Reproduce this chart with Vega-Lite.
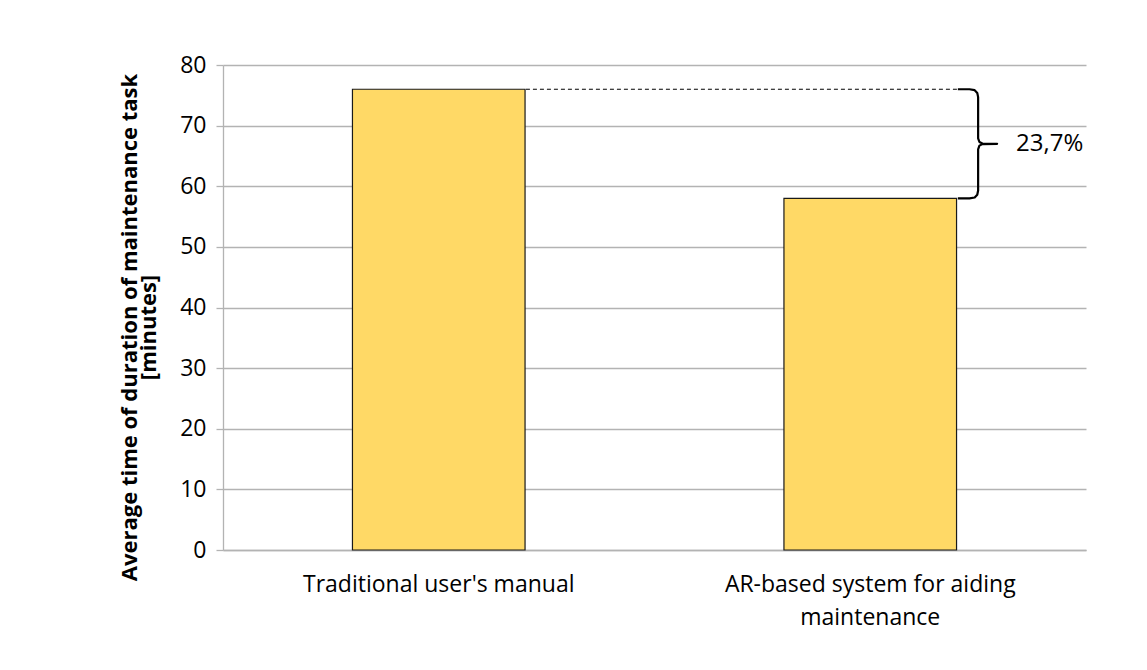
{
  "$schema": "https://vega.github.io/schema/vega-lite/v6.json",
  "width": 863,
  "height": 485,
  "autosize": "none",
  "padding": {"left": 223, "top": 65, "right": 61, "bottom": 120},
  "background": "white",
  "config": {"font": "Open Sans", "view": {"stroke": null}},
  "datasets": {
    "bars": [
      {"method": "Traditional user's manual", "minutes": 76},
      {"method": "AR-based system for aiding maintenance", "minutes": 58}
    ],
    "dash": [{"start": 0.702, "end": 1.703, "minutes": 76}],
    "brace": [
      {"step": 1, "pos": 1.703, "minutes": 76},
      {"step": 2, "pos": 1.730, "minutes": 76},
      {"step": 3, "pos": 1.742, "minutes": 75.85},
      {"step": 4, "pos": 1.748, "minutes": 75.4},
      {"step": 5, "pos": 1.750, "minutes": 74.7},
      {"step": 6, "pos": 1.750, "minutes": 67.9},
      {"step": 7, "pos": 1.753, "minutes": 67.3},
      {"step": 8, "pos": 1.760, "minutes": 67.05},
      {"step": 9, "pos": 1.794, "minutes": 67.0},
      {"step": 10, "pos": 1.760, "minutes": 66.95},
      {"step": 11, "pos": 1.753, "minutes": 66.7},
      {"step": 12, "pos": 1.750, "minutes": 66.1},
      {"step": 13, "pos": 1.750, "minutes": 59.3},
      {"step": 14, "pos": 1.748, "minutes": 58.6},
      {"step": 15, "pos": 1.742, "minutes": 58.15},
      {"step": 16, "pos": 1.730, "minutes": 58},
      {"step": 17, "pos": 1.703, "minutes": 58}
    ],
    "label": [{"pos": 1.838, "minutes": 67, "text": "23,7%"}]
  },
  "layer": [
    {
      "data": {"name": "bars"},
      "mark": {"type": "bar", "fill": "#FFD966", "stroke": "#1a1a1a", "strokeWidth": 1.2},
      "encoding": {
        "x": {
          "field": "method", "type": "nominal", "sort": null,
          "scale": {"paddingInner": 0.6, "paddingOuter": 0.3},
          "axis": {
            "title": null, "labelAngle": 0, "ticks": false, "labelFontSize": 23,
            "labelColor": "#000", "domainColor": "#b3b3b3", "domainWidth": 1.3,
            "labelPadding": 23, "labelLimit": 500, "labelLineHeight": 33,
            "labelExpr": "datum.label == 'AR-based system for aiding maintenance' ? ['AR-based system for aiding', 'maintenance'] : datum.label"
          }
        },
        "y": {
          "field": "minutes", "type": "quantitative",
          "scale": {"domain": [0, 80], "nice": false},
          "axis": {
            "values": [0, 10, 20, 30, 40, 50, 60, 70, 80],
            "title": ["Average time of duration of maintenance task", "[minutes]"],
            "titleFontSize": 22, "titleFontWeight": "bold", "titleColor": "#000",
            "titleLineHeight": 19, "titlePadding": 19, "titleY": 262,
            "labelFontSize": 23, "labelColor": "#000", "labelPadding": 10,
            "tickSize": 7, "tickColor": "#b3b3b3", "domainColor": "#b3b3b3",
            "domainWidth": 1.3, "tickWidth": 1.3,
            "grid": true, "gridColor": "#b3b3b3", "gridWidth": 1.3
          }
        }
      }
    },
    {
      "data": {"name": "dash"},
      "mark": {"type": "rule", "strokeDash": [4, 3], "color": "#000", "strokeWidth": 1.1},
      "encoding": {
        "x": {"field": "start", "type": "quantitative", "scale": {"domain": [0, 2], "nice": false}, "axis": null},
        "x2": {"field": "end"},
        "y": {"field": "minutes", "type": "quantitative"}
      }
    },
    {
      "data": {"name": "brace"},
      "mark": {"type": "line", "color": "#000", "strokeWidth": 2.2, "strokeJoin": "round"},
      "encoding": {
        "x": {"field": "pos", "type": "quantitative", "scale": {"domain": [0, 2], "nice": false}, "axis": null},
        "y": {"field": "minutes", "type": "quantitative"},
        "order": {"field": "step", "type": "quantitative"}
      }
    },
    {
      "data": {"name": "label"},
      "mark": {"type": "text", "align": "left", "baseline": "middle", "fontSize": 24, "color": "#000"},
      "encoding": {
        "x": {"field": "pos", "type": "quantitative", "scale": {"domain": [0, 2], "nice": false}, "axis": null},
        "y": {"field": "minutes", "type": "quantitative"},
        "text": {"field": "text", "type": "nominal"}
      }
    }
  ],
  "resolve": {"scale": {"x": "independent"}}
}
